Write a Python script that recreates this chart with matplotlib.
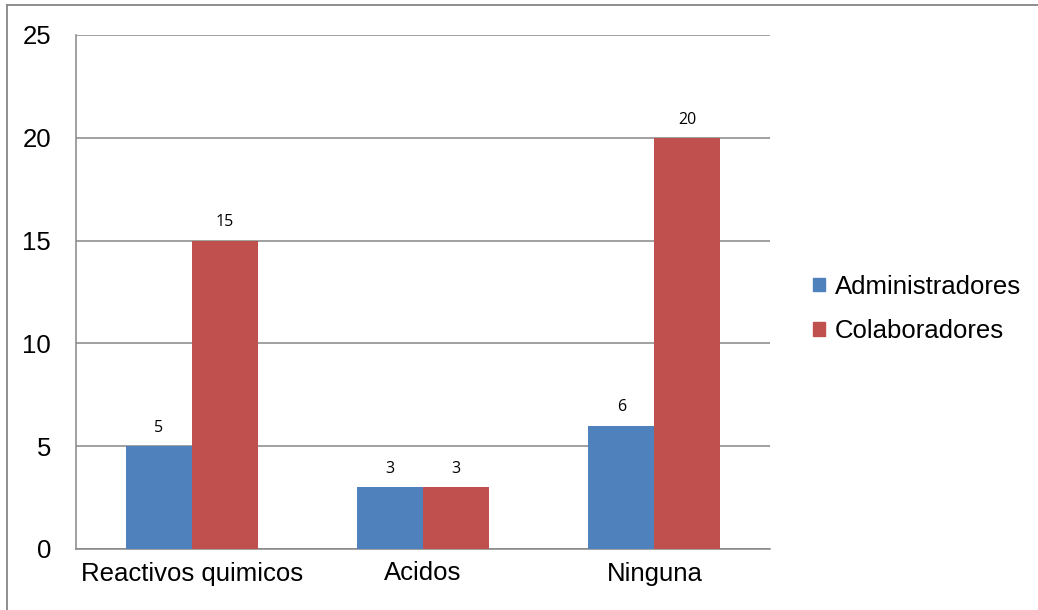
import matplotlib
matplotlib.use("Agg")
import matplotlib.pyplot as plt
from matplotlib.lines import Line2D
from matplotlib.patches import Patch
import numpy as np

categories = ["Reactivos quimicos", "Acidos", "Ninguna"]
administradores = [5, 3, 6]
colaboradores = [15, 3, 20]
series_names = ["Administradores", "Colaboradores"]
colors = ["#4F81BD", "#C0504D"]
yticks = [0, 5, 10, 15, 20, 25]

W, H = 1038, 610
fig = plt.figure(figsize=(W / 100, H / 100), dpi=100)
ax = fig.add_axes([76 / W, 1 - 549 / H, (770 - 76) / W, (549 - 35) / H])

x = np.arange(len(categories))
bw = 0.285
b1 = ax.bar(x - bw / 2, administradores, bw, color=colors[0], zorder=3)
b2 = ax.bar(x + bw / 2, colaboradores, bw, color=colors[1], zorder=3)

for bars, vals in ((b1, administradores), (b2, colaboradores)):
    for rect, v in zip(bars, vals):
        ax.text(rect.get_x() + rect.get_width() / 2, v + 0.5, str(v),
                ha="center", va="bottom", fontsize=11.5, family="Open Sans")

ax.set_xlim(-0.5, len(categories) - 0.5)
ax.set_ylim(0, 25)
ax.set_yticks(yticks)
ax.set_xticks(x)
ax.set_xticklabels(categories)
ax.yaxis.grid(True, color="#868686", linewidth=1.1, zorder=0)
ax.set_axisbelow(True)
for s in ("top", "right"):
    ax.spines[s].set_visible(False)
for s in ("left", "bottom"):
    ax.spines[s].set_color("#868686")
    ax.spines[s].set_linewidth(1.1)
ax.tick_params(axis="both", length=0, labelsize=18.5)
ax.tick_params(axis="y", pad=18)
ax.tick_params(axis="x", pad=9)
for lab in ax.get_xticklabels() + ax.get_yticklabels():
    lab.set_family("Liberation Sans")

handles = [Patch(color=c, label=n) for c, n in zip(colors, series_names)]
fig.legend(handles=handles, loc="center left", bbox_to_anchor=(790 / W, 1 - 309 / H),
           frameon=False, prop={"family": "Liberation Sans", "size": 18.5},
           handlelength=0.45, handleheight=0.45, handletextpad=0.4, labelspacing=0.8)

# outer frame lines along the top and left edges
fig.add_artist(Line2D([7 / W, 1], [1 - 5 / H, 1 - 5 / H], color="#868686", linewidth=1.3,
                      transform=fig.transFigure))
fig.add_artist(Line2D([7 / W, 7 / W], [0, 1 - 5 / H], color="#868686", linewidth=1.3,
                      transform=fig.transFigure))

fig.savefig("out.png", dpi=100)
